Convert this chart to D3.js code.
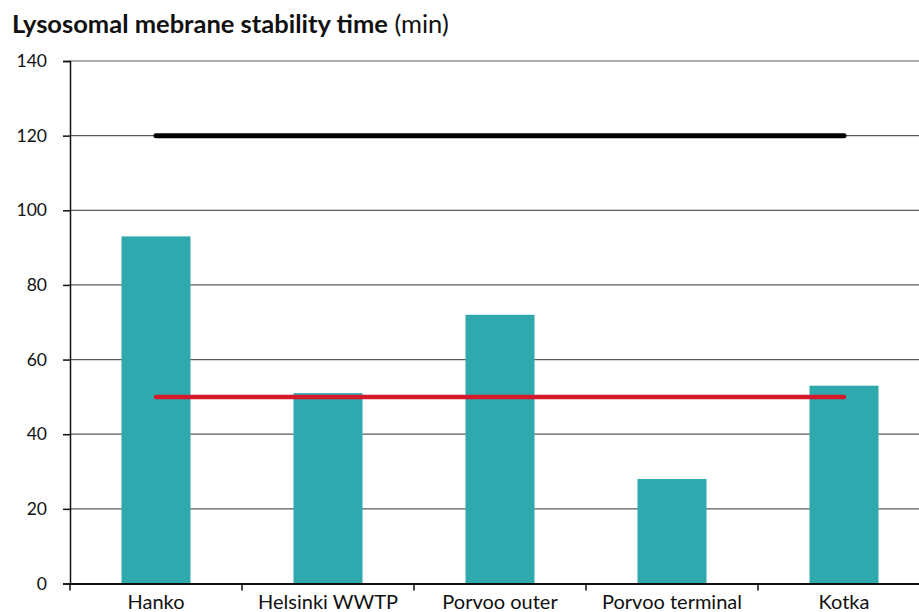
<!DOCTYPE html>
<html>
<head>
<meta charset="utf-8">
<script src="https://cdn.jsdelivr.net/npm/d3@7"></script>
<style>
  html, body { margin: 0; padding: 0; background: #fff; }
  svg { display: block; overflow: hidden; }
  text { font-family: Lato, "Open Sans", sans-serif; fill: #111; }
</style>
</head>
<body>
<svg id="chart" width="919" height="612"></svg>
<script>
// Lysosomal membrane stability per sampling site
const categories = ["Hanko", "Helsinki WWTP", "Porvoo outer", "Porvoo terminal", "Kotka"];
const values = [93, 51, 72, 28, 53];
const upperRef = [120, 120, 120, 120, 120];   // black reference line
const lowerRef = [50, 50, 50, 50, 50];        // red reference line
const yTicks = [0, 20, 40, 60, 80, 100, 120, 140];

const svg = d3.select("#chart");
const plotLeft = 70, bandW = 172;
const plotRight = plotLeft + bandW * categories.length;
const plotTop = 61, plotBottom = 583.5;

const x = d3.scaleBand().domain(categories).range([plotLeft, plotRight]).paddingInner(0).paddingOuter(0);
const y = d3.scaleLinear().domain([0, 140]).range([plotBottom, plotTop]);

// Title
const title = svg.append("text").attr("x", 12).attr("y", 33).style("font-size", "25.5px");
title.append("tspan").attr("font-weight", "bold").text("Lysosomal mebrane stability time");
title.append("tspan").attr("font-weight", "normal").text(" (min)");

// Gridlines
svg.append("g").selectAll("line").data(yTicks.filter(d => d > 0)).join("line")
  .attr("x1", plotLeft).attr("x2", plotRight)
  .attr("y1", d => y(d)).attr("y2", d => y(d))
  .attr("stroke", "#5a5a5a").attr("stroke-width", 1.2);

// Bars
svg.append("g").selectAll("rect").data(values).join("rect")
  .attr("x", (d, i) => x(categories[i]) + (bandW - 69) / 2)
  .attr("width", 69)
  .attr("y", d => y(d))
  .attr("height", d => y(0) - y(d))
  .attr("fill", "#2fa9ae");

// Y axis
const yAxis = d3.axisLeft(y).tickValues(yTicks).tickSize(7).tickPadding(16).tickFormat(d3.format("d"));
const gy = svg.append("g").attr("transform", `translate(${plotLeft},0)`).call(yAxis);
gy.select(".domain").attr("stroke", "#111").attr("stroke-width", 1.5);
gy.selectAll(".tick line").attr("stroke", "#111").attr("stroke-width", 1.5);
gy.selectAll(".tick text").style("font-size", "17.5px").attr("fill", "#111");

// X axis
const xAxis = d3.axisBottom(x).tickSize(0).tickPadding(0);
const gx = svg.append("g").attr("transform", `translate(0,${plotBottom})`).call(xAxis);
gx.select(".domain").attr("stroke", "#111").attr("stroke-width", 2);
gx.selectAll(".tick text").style("font-size", "20px").attr("fill", "#111")
  .attr("dy", null).attr("y", 25);
// Category separator ticks
gx.append("g").selectAll("line").data(d3.range(categories.length + 1)).join("line")
  .attr("x1", i => plotLeft + i * bandW).attr("x2", i => plotLeft + i * bandW)
  .attr("y1", 0).attr("y2", 7)
  .attr("stroke", "#111").attr("stroke-width", 1.5);

// Reference lines through bar centres
const line = d3.line()
  .x((d, i) => x(categories[i]) + bandW / 2)
  .y(d => y(d));
svg.append("path").datum(upperRef).attr("d", line)
  .attr("fill", "none").attr("stroke", "#000").attr("stroke-width", 5).attr("stroke-linecap", "round");
svg.append("path").datum(lowerRef).attr("d", line)
  .attr("fill", "none").attr("stroke", "#d41a2b").attr("stroke-width", 4.5).attr("stroke-linecap", "round");
</script>
</body>
</html>
